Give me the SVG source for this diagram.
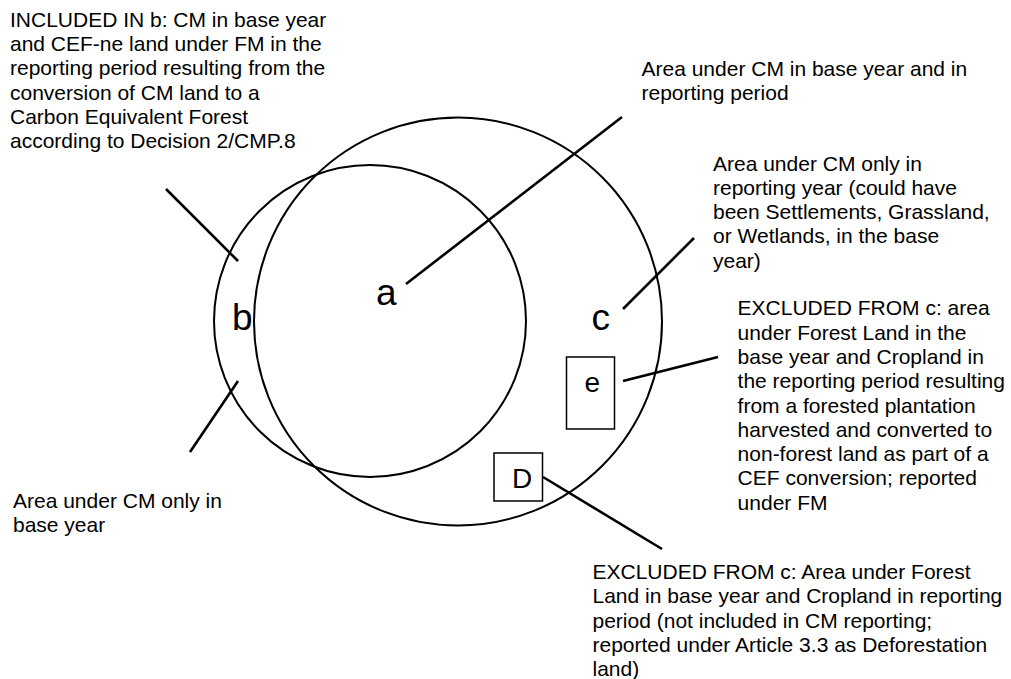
<svg xmlns="http://www.w3.org/2000/svg" width="1011" height="679" viewBox="0 0 1011 679">
<style>
.t{font-family:"Liberation Sans",Arial,sans-serif;font-size:21px;fill:#000}
.big{font-family:"Liberation Sans",Arial,sans-serif;font-size:37px;fill:#000}
.mid{font-family:"Liberation Sans",Arial,sans-serif;font-size:28px;fill:#000}
.shape{fill:none;stroke:#000;stroke-width:2}
.box{fill:#fff;stroke:#000;stroke-width:1.5}
.conn{stroke:#000;stroke-width:2.6;fill:none}
</style>
<rect width="1011" height="679" fill="#fff"/>
<g id="circle-b-base-year">
<circle class="shape" cx="370" cy="321" r="156"/>
</g>
<g id="circle-c-reporting">
<circle class="shape" cx="458" cy="321.5" r="204"/>
</g>
<g id="label-a"><text class="big" x="376" y="305">a</text></g>
<g id="label-b"><text class="big" x="232" y="330">b</text></g>
<g id="label-c"><text class="big" x="591.5" y="330">c</text></g>
<g id="box-e">
<rect class="box" x="566.5" y="357" width="48" height="72"/>
<text class="mid" x="584.5" y="392">e</text>
</g>
<g id="box-D">
<rect class="box" x="494" y="453" width="48.5" height="48"/>
<text class="mid" x="512" y="488">D</text>
</g>
<g id="connectors">
<line class="conn" x1="406" y1="284" x2="622" y2="117"/>
<line class="conn" x1="166" y1="189" x2="238" y2="261"/>
<line class="conn" x1="238" y1="381" x2="190" y2="452"/>
<line class="conn" x1="623" y1="309" x2="694" y2="238"/>
<line class="conn" x1="623" y1="381" x2="718" y2="357"/>
<line class="conn" x1="543" y1="477" x2="662" y2="549"/>
</g>
<g id="note-included-b">
<text class="t" x="10" y="26.7">INCLUDED IN b: CM in base year</text>
<text class="t" x="10" y="51">and CEF-ne land under FM in the</text>
<text class="t" x="10" y="75.3">reporting period resulting from the</text>
<text class="t" x="10" y="99.6">conversion of CM land to a</text>
<text class="t" x="10" y="123.9">Carbon Equivalent Forest</text>
<text class="t" x="10" y="148.2">according to Decision 2/CMP.8</text>
</g>
<g id="note-a">
<text class="t" x="641.5" y="76">Area under CM in base year and in</text>
<text class="t" x="641.5" y="100">reporting period</text>
</g>
<g id="note-c">
<text class="t" x="713" y="170.5">Area under CM only in</text>
<text class="t" x="713" y="194.8">reporting year (could have</text>
<text class="t" x="713" y="219.1">been Settlements, Grassland,</text>
<text class="t" x="713" y="243.4">or Wetlands, in the base</text>
<text class="t" x="713" y="267.7">year)</text>
</g>
<g id="note-e">
<text class="t" x="737.6" y="315.3">EXCLUDED FROM c: area</text>
<text class="t" x="737.6" y="339.6">under Forest Land in the</text>
<text class="t" x="737.6" y="363.9">base year and Cropland in</text>
<text class="t" x="737.6" y="388.2">the reporting period resulting</text>
<text class="t" x="737.6" y="412.5">from a forested plantation</text>
<text class="t" x="737.6" y="436.8">harvested and converted to</text>
<text class="t" x="737.6" y="461.1">non-forest land as part of a</text>
<text class="t" x="737.6" y="485.4">CEF conversion; reported</text>
<text class="t" x="737.6" y="509.7">under FM</text>
</g>
<g id="note-b">
<text class="t" x="13" y="507.7">Area under CM only in</text>
<text class="t" x="13" y="532">base year</text>
</g>
<g id="note-D">
<text class="t" x="592.5" y="579">EXCLUDED FROM c: Area under Forest</text>
<text class="t" x="592.5" y="603.3">Land in base year and Cropland in reporting</text>
<text class="t" x="592.5" y="627.6">period (not included in CM reporting;</text>
<text class="t" x="592.5" y="651.9">reported under Article 3.3 as Deforestation</text>
<text class="t" x="592.5" y="676.2">land)</text>
</g>
</svg>
